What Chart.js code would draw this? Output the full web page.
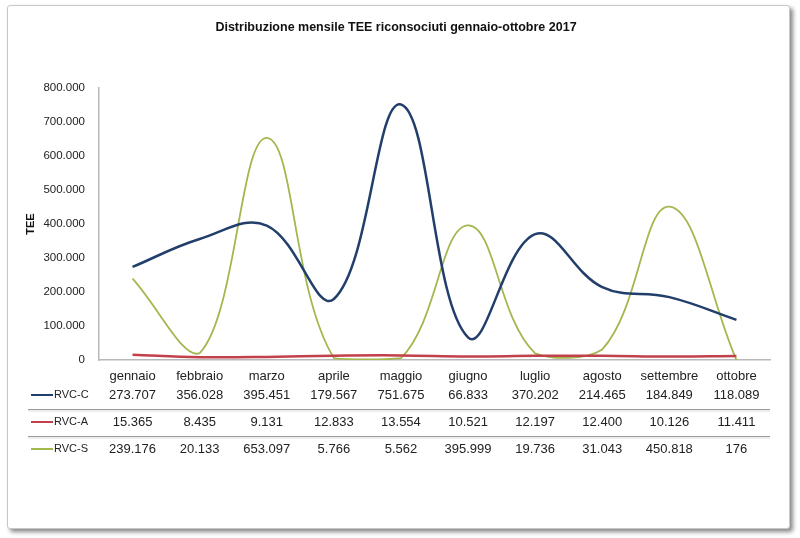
<!DOCTYPE html>
<html>
<head>
<meta charset="utf-8">
<script src="https://cdn.jsdelivr.net/npm/chart.js@4/dist/chart.umd.min.js"></script>
<style>
html,body{margin:0;padding:0;background:#fff;}
#frame{position:absolute;left:7px;top:5px;width:781px;height:522px;border:1px solid #c8c8c8;border-radius:3px;box-shadow:3px 3px 4px #8a8a8a;background:#fff;}
#c{position:absolute;left:0;top:0;}
</style>
</head>
<body>
<div id="frame"></div>
<canvas id="c" width="800" height="538"></canvas>
<script>
const months = ['gennaio','febbraio','marzo','aprile','maggio','giugno','luglio','agosto','settembre','ottobre'];
const rvcC = [273707, 356028, 395451, 179567, 751675, 66833, 370202, 214465, 184849, 118089];
const rvcA = [15365, 8435, 9131, 12833, 13554, 10521, 12197, 12400, 10126, 11411];
const rvcS = [239176, 20133, 653097, 5766, 5562, 395999, 19736, 31043, 450818, 176];
const seriesNames = ['RVC-C','RVC-A','RVC-S'];
const seriesColors = ['#223f6b','#c2404a','#a2b84e'];

function fmt(v){ return String(Math.round(v)).replace(/\B(?=(\d{3})+(?!\d))/g,'.'); }

const FONT = '"Liberation Sans", Arial, sans-serif';

const tablePlugin = {
  id:'dataTable',
  afterDraw(chart){
    const ctx = chart.ctx, x = chart.scales.x;
    const all = [rvcC, rvcA, rvcS];
    const rowY = [395, 422, 449];
    ctx.save();
    [409, 436].forEach(y=>{
      ctx.strokeStyle = '#9a9a9a'; ctx.lineWidth = 1.2;
      ctx.beginPath(); ctx.moveTo(28, y+0.5); ctx.lineTo(770, y+0.5); ctx.stroke();
      ctx.strokeStyle = '#dddddd'; ctx.lineWidth = 1;
      ctx.beginPath(); ctx.moveTo(28, y+2); ctx.lineTo(770, y+2); ctx.stroke();
    });
    all.forEach((arr, r)=>{
      const y = rowY[r];
      ctx.strokeStyle = seriesColors[r]; ctx.lineWidth = 2;
      ctx.beginPath(); ctx.moveTo(31, y); ctx.lineTo(53, y); ctx.stroke();
      ctx.fillStyle = '#222';
      ctx.font = '11px ' + FONT;
      ctx.textAlign = 'left'; ctx.textBaseline = 'middle';
      ctx.fillText(seriesNames[r], 54, y);
      ctx.font = '13px ' + FONT;
      ctx.textAlign = 'center';
      arr.forEach((v,i)=>{ ctx.fillText(fmt(v), x.getPixelForValue(i), y); });
    });
    ctx.restore();
  }
};

new Chart(document.getElementById('c'), {
  type:'line',
  data:{
    labels: months,
    datasets:[
      {label:seriesNames[0], data:rvcC, borderColor:seriesColors[0], borderWidth:2.5, pointRadius:0, tension:0.4, fill:false},
      {label:seriesNames[1], data:rvcA, borderColor:seriesColors[1], borderWidth:2.5, pointRadius:0, tension:0.4, fill:false},
      {label:seriesNames[2], data:rvcS, borderColor:seriesColors[2], borderWidth:1.8, pointRadius:0, tension:0.4, fill:false}
    ]
  },
  options:{
    responsive:false,
    animation:false,
    layout:{padding:{left:22, right:30, top:0, bottom:0}},
    plugins:{
      legend:{display:false},
      tooltip:{enabled:false},
      title:{display:true, text:'Distribuzione mensile TEE riconsociuti gennaio-ottobre 2017',
        color:'#111', font:{family:FONT, size:12.5, weight:'bold'},
        padding:{top:20, bottom:53}}
    },
    scales:{
      x:{
        offset:true,
        grid:{display:false, drawTicks:false},
        border:{display:true, color:'#b8b8b8', width:1.5},
        ticks:{color:'#222', padding:9, maxRotation:0, autoSkip:false,
          font:{family:FONT, size:13}},
        afterFit(s){ s.height = 178; }
      },
      y:{
        min:0, max:800000,
        grid:{display:false, drawTicks:false},
        border:{display:true, color:'#b8b8b8', width:1.5},
        ticks:{stepSize:100000, color:'#222', padding:14,
          font:{family:FONT, size:11.5},
          callback:(v)=>fmt(v)},
        title:{display:true, text:'TEE', color:'#111', padding:{top:2,bottom:0},
          font:{family:FONT, size:11, weight:'bold'}},
        afterFit(s){ s.width = 77; }
      }
    }
  },
  plugins:[tablePlugin]
});
</script>
</body>
</html>
